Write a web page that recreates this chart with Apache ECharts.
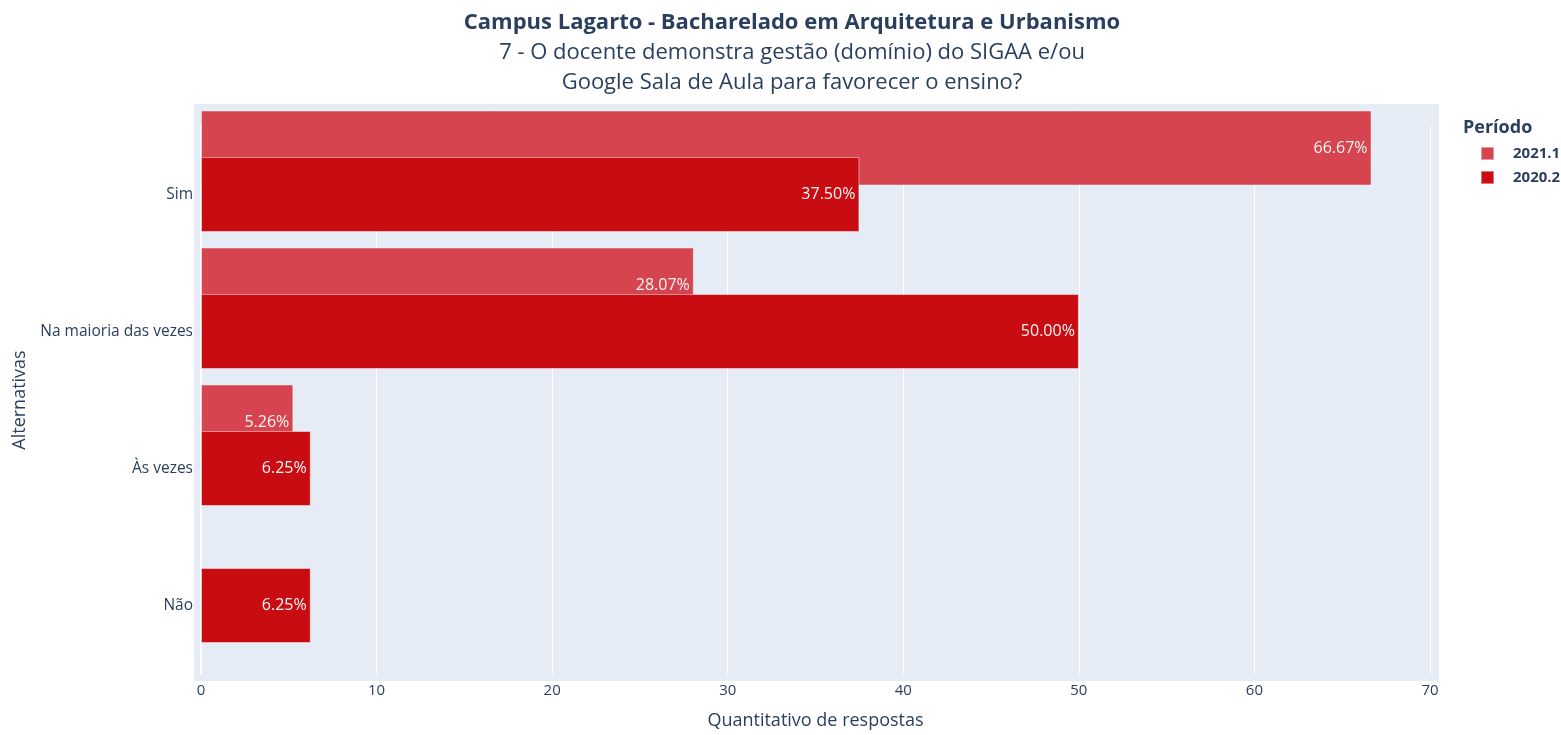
<!DOCTYPE html>
<html>
<head>
<meta charset="utf-8">
<script src="https://cdn.jsdelivr.net/npm/echarts@6/dist/echarts.min.js"></script>
<style>
  html, body { margin: 0; padding: 0; background: #fff; }
  #chart { width: 1561px; height: 735px; }
</style>
</head>
<body>
<div id="chart"></div>
<script>
// dados
var alternativas = ["Sim", "Na maioria das vezes", "Às vezes", "Não"];
var periodo2021_1 = [66.67, 28.07, 5.26, null];
var periodo2020_2 = [37.50, 50.00, 6.25, 6.25];
var xTicks = [0, 10, 20, 30, 40, 50, 60, 70];

var fonte = "'Open Sans', 'Noto Sans', sans-serif";
var corTexto = "#2a3f5f";

var myChart = echarts.init(document.getElementById("chart"));

function rotulo(p) {
    return p.value.toFixed(2) + "%";
}

var option = {
    textStyle: { fontFamily: fonte },
    title: [
        {
            text: "Campus Lagarto - Bacharelado em Arquitetura e Urbanismo",
            subtext: "7 - O docente demonstra gestão (domínio) do SIGAA e/ou\nGoogle Sala de Aula para favorecer o ensino?",
            left: 787,
            top: 7,
            textAlign: "center",
            itemGap: 4,
            textStyle: { fontFamily: fonte, fontSize: 22, fontWeight: "bold", color: corTexto },
            subtextStyle: { fontFamily: fonte, fontSize: 22, color: corTexto, lineHeight: 30 }
        },
        {
            text: "Período",
            left: 1458,
            top: 114,
            textStyle: { fontFamily: fonte, fontSize: 18, fontWeight: "bold", color: corTexto }
        }
    ],
    legend: {
        data: ["2021.1", "2020.2"],
        orient: "vertical",
        left: 1475,
        top: 141,
        itemWidth: 13,
        itemHeight: 13,
        itemGap: 9,
        icon: "rect",
        textStyle: { fontFamily: fonte, fontSize: 15, fontWeight: "bold", color: corTexto, padding: [0, 0, 0, 14] }
    },
    graphic: [
        {
            type: "rect",
            z: -10,
            shape: { x: 194, y: 104, width: 1245, height: 577 },
            style: { fill: "#e5ecf6" }
        }
    ],
    grid: { left: 201, right: 131, top: 126, bottom: 60 },
    xAxis: {
        type: "value",
        min: 0,
        max: 70,
        interval: 10,
        name: "Quantitativo de respostas",
        nameLocation: "middle",
        nameGap: 38,
        nameTextStyle: { fontFamily: fonte, fontSize: 18, color: corTexto },
        axisLine: { show: false },
        axisTick: { show: false },
        axisLabel: { margin: 9, fontFamily: fonte, fontSize: 15, color: corTexto },
        splitLine: { show: true, lineStyle: { color: "#ffffff", width: 1 } }
    },
    yAxis: {
        type: "category",
        data: alternativas,
        inverse: true,
        name: "Alternativas",
        nameLocation: "middle",
        nameGap: 172,
        nameTextStyle: { fontFamily: fonte, fontSize: 18, color: corTexto },
        axisLine: { show: true, lineStyle: { color: "#ffffff", width: 2 } },
        axisTick: { show: false },
        axisLabel: { margin: 8, fontFamily: fonte, fontSize: 15.5, color: corTexto },
        splitLine: { show: false }
    },
    series: [
        {
            name: "2021.1",
            type: "bar",
            data: periodo2021_1,
            barWidth: 75,
            barGap: "-38%",
            clip: false,
            itemStyle: { color: "#d6444f", borderColor: "rgba(255,255,255,0.45)", borderWidth: 1 },
            label: {
                show: true, position: "insideRight", distance: 4,
                formatter: rotulo,
                fontFamily: fonte, fontSize: 16, color: "#f6f6f6"
            }
        },
        {
            name: "2020.2",
            type: "bar",
            data: periodo2020_2,
            barWidth: 75,
            barGap: "-38%",
            clip: false,
            itemStyle: { color: "#c80c12", borderColor: "rgba(255,255,255,0.45)", borderWidth: 1 },
            label: {
                show: true, position: "insideRight", distance: 4,
                formatter: rotulo,
                fontFamily: fonte, fontSize: 16, color: "#f6f6f6"
            }
        },
        {
            // serie vazia so para deixar 2020.2 centrada na categoria
            name: "",
            type: "bar",
            data: [],
            barWidth: 75,
            barGap: "-38%",
            silent: true
        }
    ]
};

myChart.setOption(option);
window.addEventListener("resize", function () {
    myChart.resize();
});
</script>
</body>
</html>
